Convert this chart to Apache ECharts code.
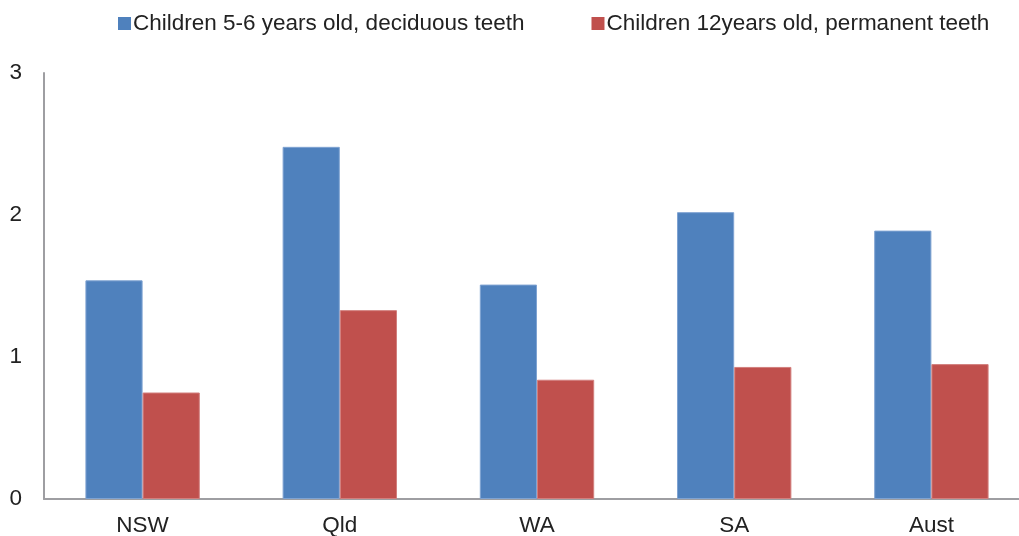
<!DOCTYPE html>
<html>
<head>
<meta charset="utf-8">
<script src="https://cdn.jsdelivr.net/npm/echarts@6/dist/echarts.min.js"></script>
<style>
  html, body { margin: 0; padding: 0; background: #fff; }
  #chart { width: 1019px; height: 536px; }
</style>
</head>
<body>
<div id="chart"></div>
<script>
const categories = ['NSW', 'Qld', 'WA', 'SA', 'Aust'];
const deciduous = [1.54, 2.48, 1.51, 2.02, 1.89];
const permanent = [0.75, 1.33, 0.84, 0.93, 0.95];
const seriesNames = ['Children 5-6 years old, deciduous teeth', 'Children 12years old, permanent teeth'];

const font = 'Liberation Sans, Arial, Helvetica, sans-serif';
const chart = echarts.init(document.getElementById('chart'), null, { renderer: 'canvas' });

chart.setOption({
  animation: false,
  backgroundColor: '#ffffff',
  legend: {
    top: 7,
    left: 113,
    itemWidth: 13,
    itemHeight: 13,
    itemGap: 67,
    icon: 'rect',
    itemStyle: { borderWidth: 0 },
    textStyle: { fontFamily: font, fontSize: 22.5, color: '#222', padding: [0, 0, 0, -3] },
    data: seriesNames
  },
  // the plot runs a little past the right edge, so the last category is clipped
  grid: { left: 44, width: 986, top: 73, height: 426, containLabel: false, outerBoundsMode: 'none' },
  xAxis: {
    type: 'category',
    data: categories,
    axisLine: { lineStyle: { color: '#9e9ea2', width: 2 } },
    axisTick: { show: false },
    axisLabel: { fontFamily: font, fontSize: 22.5, color: '#222', margin: 15 }
  },
  yAxis: {
    type: 'value',
    min: 0,
    max: 3,
    interval: 1,
    splitLine: { show: false },
    axisLine: { show: true, lineStyle: { color: '#9e9ea2', width: 2 } },
    axisTick: { show: false },
    axisLabel: { fontFamily: font, fontSize: 22.5, color: '#222', margin: 22 }
  },
  series: [
    {
      name: seriesNames[0],
      type: 'bar',
      data: deciduous,
      barGap: '0%',
      barCategoryGap: '42%',
      itemStyle: { color: '#4F81BD', borderColor: '#7fa3d2', borderWidth: 1 }
    },
    {
      name: seriesNames[1],
      type: 'bar',
      data: permanent,
      itemStyle: { color: '#C0504D', borderColor: '#d27f7d', borderWidth: 1 }
    }
  ]
});
</script>
</body>
</html>
